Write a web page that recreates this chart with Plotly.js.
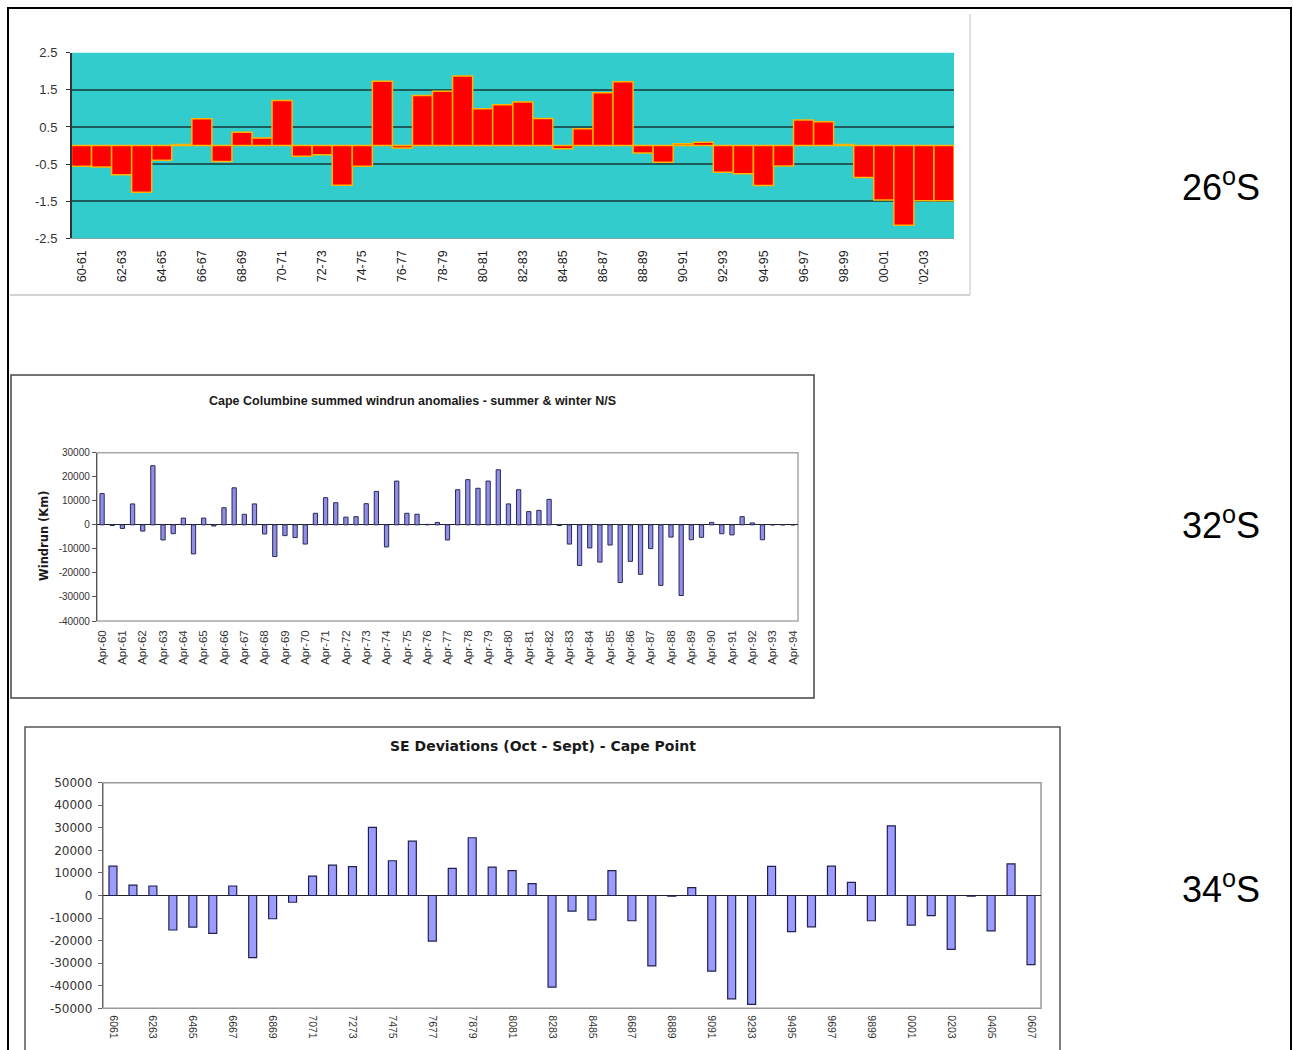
<!DOCTYPE html>
<html>
<head>
<meta charset="utf-8">
<script src="https://cdn.plot.ly/plotly-3.0.1.min.js"></script>
<style>
  html, body { margin: 0; padding: 0; background: #ffffff; }
  #chart { width: 1293px; height: 1050px; }
</style>
</head>
<body>
<div id="chart"></div>
<script>
// ---------- 26°S : seasonal anomalies ----------
const seasons26 = ['60-61','61-62','62-63','63-64','64-65','65-66','66-67','67-68','68-69','69-70',
  '70-71','71-72','72-73','73-74','74-75','75-76','76-77','77-78','78-79','79-80',
  '80-81','81-82','82-83','83-84','84-85','85-86','86-87','87-88','88-89','89-90',
  '90-91','91-92','92-93','93-94','94-95','95-96','96-97','97-98','98-99','99-00',
  '00-01','01-02','02-03','03-04'];
const values26 = [-0.56,-0.58,-0.79,-1.26,-0.40,0.03,0.72,-0.43,0.36,0.20,
  1.21,-0.29,-0.25,-1.07,-0.56,1.73,-0.07,1.35,1.46,1.87,
  0.99,1.10,1.17,0.73,-0.09,0.45,1.42,1.72,-0.20,-0.45,
  0.05,0.09,-0.72,-0.76,-1.08,-0.55,0.69,0.64,0.03,-0.86,
  -1.47,-2.15,-1.49,-1.49];
const tickVals26 = ['60-61','62-63','64-65','66-67','68-69','70-71','72-73','74-75','76-77','78-79',
  '80-81','82-83','84-85','86-87','88-89','90-91','92-93','94-95','96-97','98-99','00-01','02-03'];
const tickText26 = ['60-61','62-63','64-65','66-67','68-69','70-71','72-73','74-75','76-77','78-79',
  '80-81','82-83','84-85','86-87','88-89','90-91','92-93','94-95','96-97','98-99','00-01',"'02-03"];
const yTicks26 = [-2.5,-1.5,-0.5,0.5,1.5,2.5];
const yTickText26 = ['-2.5','-1.5','-0.5','0.5','1.5','2.5'];
const yGrid26 = [-1.5,-0.5,0.5,1.5];

// ---------- 32°S : Cape Columbine windrun ----------
const periods32 = ['Apr-60','Oct-60','Apr-61','Oct-61','Apr-62','Oct-62','Apr-63','Oct-63','Apr-64','Oct-64',
  'Apr-65','Oct-65','Apr-66','Oct-66','Apr-67','Oct-67','Apr-68','Oct-68','Apr-69','Oct-69',
  'Apr-70','Oct-70','Apr-71','Oct-71','Apr-72','Oct-72','Apr-73','Oct-73','Apr-74','Oct-74',
  'Apr-75','Oct-75','Apr-76','Oct-76','Apr-77','Oct-77','Apr-78','Oct-78','Apr-79','Oct-79',
  'Apr-80','Oct-80','Apr-81','Oct-81','Apr-82','Oct-82','Apr-83','Oct-83','Apr-84','Oct-84',
  'Apr-85','Oct-85','Apr-86','Oct-86','Apr-87','Oct-87','Apr-88','Oct-88','Apr-89','Oct-89',
  'Apr-90','Oct-90','Apr-91','Oct-91','Apr-92','Oct-92','Apr-93','Oct-93','Apr-94'];
const windrun32 = [13000,-300,-1500,8700,-2600,24600,-6300,-3700,2800,-12100,
  2800,-500,7100,15400,4400,8700,-3800,-13200,-4500,-5300,
  -8000,4800,11300,9200,3200,3400,8800,13900,-9200,18200,
  4800,4400,200,1000,-6300,14600,18800,15200,18200,22900,
  8700,14600,5500,6000,10600,-300,-8000,-16900,-9600,-15500,
  -8400,-24000,-15200,-20600,-9900,-25200,-5100,-29400,-6200,-5200,
  1000,-3700,-4200,3400,800,-6200,0,0,0];
const tickVals32 = ['Apr-60','Apr-61','Apr-62','Apr-63','Apr-64','Apr-65','Apr-66','Apr-67','Apr-68','Apr-69',
  'Apr-70','Apr-71','Apr-72','Apr-73','Apr-74','Apr-75','Apr-76','Apr-77','Apr-78','Apr-79',
  'Apr-80','Apr-81','Apr-82','Apr-83','Apr-84','Apr-85','Apr-86','Apr-87','Apr-88','Apr-89',
  'Apr-90','Apr-91','Apr-92','Apr-93','Apr-94'];
const yTicks32 = [-40000,-30000,-20000,-10000,0,10000,20000,30000];
const yTickText32 = ['-40000','-30000','-20000','-10000','0','10000','20000','30000'];

// ---------- 34°S : Cape Point SE deviations ----------
const years34 = ['6061','6162','6263','6364','6465','6566','6667','6768','6869','6970',
  '7071','7172','7273','7374','7475','7576','7677','7778','7879','7980',
  '8081','8182','8283','8384','8485','8586','8687','8788','8889','8990',
  '9091','9192','9293','9394','9495','9596','9697','9798','9899','9900',
  '0001','0102','0203','0304','0405','0506','0607'];
const deviations34 = [13000,4600,4200,-15300,-14000,-16800,4200,-27500,-10300,-3000,
  8600,13500,12800,30200,15400,24100,-20200,12000,25600,12600,
  11000,5300,-40600,-6900,-10800,11000,-11200,-31200,-300,3500,
  -33500,-45800,-48300,12900,-16000,-13900,13000,5800,-11200,30900,
  -13100,-8900,-23900,-300,-15700,14000,-30600];
const tickVals34 = ['6061','6263','6465','6667','6869','7071','7273','7475','7677','7879',
  '8081','8283','8485','8687','8889','9091','9293','9495','9697','9899',
  '0001','0203','0405','0607'];
const yTicks34 = [-50000,-40000,-30000,-20000,-10000,0,10000,20000,30000,40000,50000];
const yTickText34 = ['-50000','-40000','-30000','-20000','-10000','0','10000','20000','30000','40000','50000'];

// ---------- text ----------
const title32 = 'Cape Columbine summed windrun anomalies - summer & winter N/S';
const yTitle32 = 'Windrun (Km)';
const title34 = 'SE Deviations (Oct - Sept) - Cape Point';
const latLabels = ['26<sup>o</sup>S', '32<sup>o</sup>S', '34<sup>o</sup>S'];

// ---------- pixel helpers (page is 1293 x 1050) ----------
const W = 1293, H = 1050;
const px = v => v / W;
const py = v => 1 - v / H;

const ARIAL = 'Liberation Sans, Arial, sans-serif';
const WIDE = 'DejaVu Sans, Verdana, sans-serif';

const traces = [
  {
    type: 'bar', x: seasons26, y: values26, xaxis: 'x', yaxis: 'y', width: 1,
    marker: { color: '#ff0000', line: { color: '#ffb400', width: 1.5 } },
    hoverinfo: 'x+y'
  },
  {
    type: 'bar', x: periods32, y: windrun32, xaxis: 'x2', yaxis: 'y2', width: 0.42,
    marker: { color: '#8f8fe8', line: { color: '#2a2a55', width: 1 } },
    hoverinfo: 'x+y'
  },
  {
    type: 'bar', x: years34, y: deviations34, xaxis: 'x3', yaxis: 'y3', width: 0.4,
    marker: { color: '#9c9cff', line: { color: '#202050', width: 1.2 } },
    hoverinfo: 'x+y'
  }
];

const layout = {
  width: W, height: H,
  margin: { l: 0, r: 0, t: 0, b: 0 },
  paper_bgcolor: '#ffffff',
  plot_bgcolor: 'rgba(0,0,0,0)',
  showlegend: false,
  font: { family: ARIAL, color: '#222' },

  // top chart
  xaxis: {
    domain: [px(71.5), px(954)], anchor: 'y', type: 'category',
    tickmode: 'array', tickvals: tickVals26, ticktext: tickText26,
    tickangle: -90, tickfont: { size: 12.5, family: ARIAL, color: '#222' },
    showgrid: false, zeroline: false, showline: true, linecolor: '#7aa', linewidth: 1,
    ticks: '', ticklabelstandoff: 6, range: [-0.5, 43.5], fixedrange: true
  },
  yaxis: {
    domain: [py(238.3), py(52.7)], anchor: 'x', range: [-2.5, 2.5],
    tickmode: 'array', tickvals: yTicks26, ticktext: yTickText26,
    tickfont: { size: 13, family: ARIAL, color: '#333' },
    showgrid: false, zeroline: false,
    minor: { tickmode: 'array', tickvals: yGrid26, showgrid: true, gridcolor: '#1e5c5c', gridwidth: 1.6, ticks: '' },
    showline: true, linecolor: '#333', linewidth: 1.5,
    ticks: 'outside', ticklen: 4, tickcolor: '#333', ticklabelstandoff: 6, fixedrange: true
  },

  // middle chart
  xaxis2: {
    domain: [px(97), px(798)], anchor: 'y2', type: 'category',
    tickmode: 'array', tickvals: tickVals32, ticktext: tickVals32,
    tickangle: -90, tickfont: { size: 11.5, family: ARIAL, color: '#333' },
    showgrid: false, zeroline: false, showline: false, ticks: '',
    ticklabelstandoff: 6, range: [-0.5, 68.5], fixedrange: true
  },
  yaxis2: {
    domain: [py(621), py(452.7)], anchor: 'x2', range: [-40000, 30000],
    tickmode: 'array', tickvals: yTicks32, ticktext: yTickText32,
    tickfont: { size: 10, family: ARIAL, color: '#333' },
    showgrid: false, zeroline: true, zerolinecolor: '#222', zerolinewidth: 1.3,
    showline: true, linecolor: '#555', linewidth: 1.2,
    ticks: 'outside', ticklen: 4, tickcolor: '#555', fixedrange: true
  },

  // bottom chart
  xaxis3: {
    domain: [px(103), px(1041)], anchor: 'y3', type: 'category',
    tickmode: 'array', tickvals: tickVals34, ticktext: tickVals34,
    tickangle: 90, tickfont: { size: 10.5, family: ARIAL, color: '#333' },
    showgrid: false, zeroline: false, showline: false, ticks: '',
    ticklabelstandoff: 6, range: [-0.5, 46.5], fixedrange: true
  },
  yaxis3: {
    domain: [py(1008.3), py(782.7)], anchor: 'x3', range: [-50000, 50000],
    tickmode: 'array', tickvals: yTicks34, ticktext: yTickText34,
    tickfont: { size: 12, family: WIDE, color: '#333' },
    showgrid: false, zeroline: true, zerolinecolor: '#222', zerolinewidth: 1.3,
    showline: true, linecolor: '#666', linewidth: 1.2,
    ticks: 'outside', ticklen: 4, tickcolor: '#666', ticklabelstandoff: 3, fixedrange: true
  },

  shapes: [
    // outer frame of the whole figure
    { type: 'rect', xref: 'paper', yref: 'paper', x0: px(8), x1: px(1291), y0: py(1060), y1: py(8),
      line: { color: '#000000', width: 2 }, fillcolor: 'rgba(0,0,0,0)' },
    // faint edges of the top chart panel
    { type: 'line', xref: 'paper', yref: 'paper', x0: px(10), x1: px(970), y0: py(295), y1: py(295),
      line: { color: '#c4c4c4', width: 1.5 } },
    { type: 'line', xref: 'paper', yref: 'paper', x0: px(970), x1: px(970), y0: py(295), y1: py(14),
      line: { color: '#d6d6d6', width: 1.5 } },
    // teal plot background (top chart)
    { type: 'rect', xref: 'x domain', yref: 'y domain', x0: 0, x1: 1, y0: 0, y1: 1,
      fillcolor: '#33cccc', line: { width: 0 }, layer: 'below' },
    // middle chart panel and plot frame
    { type: 'rect', xref: 'paper', yref: 'paper', x0: px(11), x1: px(814), y0: py(698), y1: py(375),
      line: { color: '#444444', width: 1.5 }, fillcolor: 'rgba(0,0,0,0)' },
    { type: 'rect', xref: 'x2 domain', yref: 'y2 domain', x0: 0, x1: 1, y0: 0, y1: 1,
      line: { color: '#a8a8a8', width: 1.5 }, layer: 'below' },
    // bottom chart panel and plot frame
    { type: 'rect', xref: 'paper', yref: 'paper', x0: px(25), x1: px(1060), y0: py(1060), y1: py(727),
      line: { color: '#555555', width: 1.5 }, fillcolor: 'rgba(0,0,0,0)' },
    { type: 'rect', xref: 'x3 domain', yref: 'y3 domain', x0: 0, x1: 1, y0: 0, y1: 1,
      line: { color: '#9a9a9a', width: 1.5 }, layer: 'below' }
  ],

  annotations: [
    { xref: 'paper', yref: 'paper', x: px(412), y: py(401), text: '<b>' + title32 + '</b>', showarrow: false,
      xanchor: 'center', yanchor: 'middle', font: { family: ARIAL, size: 12.5, color: '#1a1a1a' } },
    { xref: 'paper', yref: 'paper', x: px(44), y: py(536), text: '<b>' + yTitle32 + '</b>', showarrow: false,
      textangle: -90, xanchor: 'center', yanchor: 'middle', font: { family: WIDE, size: 11.5, color: '#1a1a1a' } },
    { xref: 'paper', yref: 'paper', x: px(543), y: py(746), text: '<b>' + title34 + '</b>', showarrow: false,
      xanchor: 'center', yanchor: 'middle', font: { family: WIDE, size: 14, color: '#1a1a1a' } },
    { xref: 'paper', yref: 'paper', x: px(1221), y: py(185), text: latLabels[0], showarrow: false,
      xanchor: 'center', yanchor: 'middle', font: { family: ARIAL, size: 36, color: '#000' } },
    { xref: 'paper', yref: 'paper', x: px(1221), y: py(523), text: latLabels[1], showarrow: false,
      xanchor: 'center', yanchor: 'middle', font: { family: ARIAL, size: 36, color: '#000' } },
    { xref: 'paper', yref: 'paper', x: px(1221), y: py(887), text: latLabels[2], showarrow: false,
      xanchor: 'center', yanchor: 'middle', font: { family: ARIAL, size: 36, color: '#000' } }
  ]
};

Plotly.newPlot('chart', traces, layout, { staticPlot: true, displayModeBar: false });
</script>
</body>
</html>
